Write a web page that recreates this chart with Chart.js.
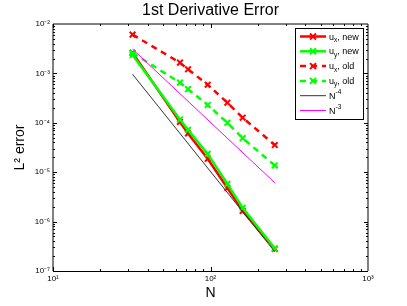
<!DOCTYPE html>
<html>
<head>
<meta charset="utf-8">
<script src="https://cdn.jsdelivr.net/npm/chart.js@4.4.1/dist/chart.umd.min.js"></script>
<style>
  html, body { margin: 0; padding: 0; background: #fff; }
  #wrap { width: 407px; height: 306px; }
</style>
</head>
<body>
<div id="wrap"><canvas id="errChart"></canvas></div>
<script>
// values
const N = [32, 64, 72, 96, 128, 160, 256];
const uxNew = [2.6e-3, 1.04e-4, 6.1e-5, 1.87e-5, 4.8e-6, 1.64e-6, 2.8e-7];
const uyNew = [2.35e-3, 1.17e-4, 7.2e-5, 2.35e-5, 5.8e-6, 1.9e-6, 2.85e-7];
const uxOld = [6.1e-3, 1.65e-3, 1.21e-3, 5.9e-4, 2.55e-4, 1.27e-4, 3.55e-5];
const uyOld = [2.6e-3, 6.5e-4, 4.8e-4, 2.3e-4, 1.0e-4, 4.9e-5, 1.37e-5];
const refN = [32, 256];
const refN4 = [9.6e-4, 2.45e-7];
const refN3 = [3.1e-3, 6.1e-6];
const labels = ['u_x, new', 'u_y, new', 'u_x, old', 'u_y, old', 'N^-4', 'N^-3'];
const xTicks = [10, 100, 1000];
const yTicks = [1e-7, 1e-6, 1e-5, 1e-4, 1e-3, 1e-2];

const FONT = 'Liberation Sans, Arial, Helvetica, sans-serif';
const SUP = {'-': '\u207B', '0': '\u2070', '1': '\u00B9', '2': '\u00B2', '3': '\u00B3',
  '4': '\u2074', '5': '\u2075', '6': '\u2076', '7': '\u2077', '8': '\u2078', '9': '\u2079'};

function tenPow(v) {
  const e = Math.round(Math.log10(v));
  return '10' + String(e).split('').map(c => SUP[c]).join('');
}

function pts(xs, ys) {
  return xs.map((x, i) => ({x: x, y: ys[i]}));
}

function series(i, ys, color, dash, xs) {
  const marker = xs === undefined;
  return {
    label: labels[i],
    data: pts(xs || N, ys),
    showLine: true,
    borderColor: color,
    backgroundColor: color,
    borderWidth: marker ? 2.5 : 1,
    borderDash: dash,
    pointStyle: 'crossRot',
    pointRadius: marker ? 4 : 0,
    pointBorderWidth: 2,
    order: 10 - i
  };
}

// box round the axes with inward ticks on all four sides (matlab look)
const boxTicks = {
  id: 'boxTicks',
  afterDatasetsDraw(chart) {
    const {ctx, chartArea: a, scales: {x, y}} = chart;
    ctx.save();
    ctx.strokeStyle = '#000';
    ctx.lineWidth = 1;
    ctx.beginPath();
    ctx.moveTo(a.left, a.bottom);
    ctx.lineTo(a.left, a.top);
    ctx.lineTo(a.right, a.top);
    ctx.lineTo(a.right, a.bottom);
    ctx.stroke();
    ctx.beginPath();
    ctx.moveTo(a.left, a.bottom + 0.5);
    ctx.lineTo(a.right, a.bottom + 0.5);
    ctx.stroke();
    ctx.beginPath();
    for (let e = 1; e < 3; e++) {
      for (let m = 1; m < 10; m++) {
        const px = Math.round(x.getPixelForValue(m * Math.pow(10, e))) + 0.5;
        const len = m === 1 ? 4 : 2;
        ctx.moveTo(px, a.bottom); ctx.lineTo(px, a.bottom - len);
        ctx.moveTo(px, a.top); ctx.lineTo(px, a.top + len);
      }
    }
    for (let e = -7; e < -2; e++) {
      for (let m = 1; m < 10; m++) {
        const py = Math.round(y.getPixelForValue(m * Math.pow(10, e))) + 0.5;
        const len = m === 1 ? 4 : 2;
        ctx.moveTo(a.left, py); ctx.lineTo(a.left + len, py);
        ctx.moveTo(a.right, py); ctx.lineTo(a.right - len, py);
      }
    }
    ctx.stroke();
    ctx.restore();
  }
};

// legend with sub/superscripts, drawn like matlab's box legend
const legendBox = {
  id: 'legendBox',
  afterDraw(chart) {
    const ctx = chart.ctx;
    const bx = 295, by = 28, bw = 68, bh = 91;
    ctx.save();
    ctx.fillStyle = '#fff';
    ctx.fillRect(bx, by, bw, bh);
    ctx.strokeStyle = '#000';
    ctx.lineWidth = 1;
    ctx.strokeRect(bx + 0.5, by + 0.5, bw, bh);
    chart.data.datasets.forEach((ds, i) => {
      const yy = by + 8.5 + i * 14.8;
      ctx.strokeStyle = ds.borderColor;
      ctx.lineWidth = ds.borderWidth;
      ctx.setLineDash(ds.borderDash || []);
      ctx.beginPath();
      ctx.moveTo(300, yy);
      ctx.lineTo(326, yy);
      ctx.stroke();
      ctx.setLineDash([]);
      if (ds.pointRadius > 0) {
        const r = ds.pointRadius * 0.75;
        ctx.lineWidth = ds.pointBorderWidth;
        ctx.beginPath();
        ctx.moveTo(313 - r, yy - r); ctx.lineTo(313 + r, yy + r);
        ctx.moveTo(313 - r, yy + r); ctx.lineTo(313 + r, yy - r);
        ctx.stroke();
      }
      const m = ds.label.match(/^(.*?)([_^])([^,]+)(.*)$/);
      ctx.fillStyle = '#000';
      ctx.textBaseline = 'alphabetic';
      let tx = 329;
      ctx.font = '9px ' + FONT;
      ctx.fillText(m[1], tx, yy + 3);
      tx += ctx.measureText(m[1]).width;
      ctx.font = '6.5px ' + FONT;
      ctx.fillText(m[3], tx, m[2] === '_' ? yy + 5.5 : yy - 1.5);
      tx += ctx.measureText(m[3]).width;
      ctx.font = '9px ' + FONT;
      ctx.fillText(m[4], tx, yy + 3);
    });
    ctx.restore();
  }
};

new Chart(document.getElementById('errChart'), {
  type: 'scatter',
  data: {
    datasets: [
      series(0, uxNew, '#ff0000', []),
      series(1, uyNew, '#00ff00', []),
      series(2, uxOld, '#ff0000', [6, 5]),
      series(3, uyOld, '#00ff00', [6, 5]),
      series(4, refN4, '#333333', [], refN),
      series(5, refN3, '#ff00ff', [], refN)
    ]
  },
  options: {
    responsive: true,
    maintainAspectRatio: false,
    animation: false,
    layout: { padding: { left: 0, right: 39, top: 0, bottom: 0 } },
    plugins: {
      legend: { display: false },
      tooltip: { enabled: false },
      title: {
        display: true,
        text: '1st Derivative Error',
        fullSize: false,
        color: '#000',
        font: { family: FONT, size: 16, weight: 'normal' },
        padding: { top: 1, bottom: 3.8 }
      }
    },
    scales: {
      x: {
        type: 'logarithmic',
        min: 10,
        max: 1000,
        afterFit: s => { s.height = 35; },
        afterBuildTicks: s => { s.ticks = xTicks.map(v => ({ value: v })); },
        grid: { display: false, drawTicks: false },
        border: { display: false },
        ticks: {
          callback: v => tenPow(v),
          font: { family: FONT, size: 8 },
          color: '#000',
          padding: 3,
          maxRotation: 0,
          autoSkip: false
        },
        title: {
          display: true,
          text: 'N',
          color: '#000',
          font: { family: FONT, size: 14 },
          padding: { top: 0, bottom: 4 }
        }
      },
      y: {
        type: 'logarithmic',
        min: 1e-7,
        max: 1e-2,
        afterFit: s => { s.width = 53; },
        afterBuildTicks: s => { s.ticks = yTicks.map(v => ({ value: v })); },
        grid: { display: false, drawTicks: false },
        border: { display: false },
        ticks: {
          callback: v => tenPow(v),
          font: { family: FONT, size: 8 },
          color: '#000',
          padding: 3,
          autoSkip: false
        },
        title: {
          display: true,
          text: 'L\u00B2 error',
          color: '#000',
          font: { family: FONT, size: 14 },
          padding: { top: 12, bottom: 0 }
        }
      }
    }
  },
  plugins: [boxTicks, legendBox]
});
</script>
</body>
</html>
